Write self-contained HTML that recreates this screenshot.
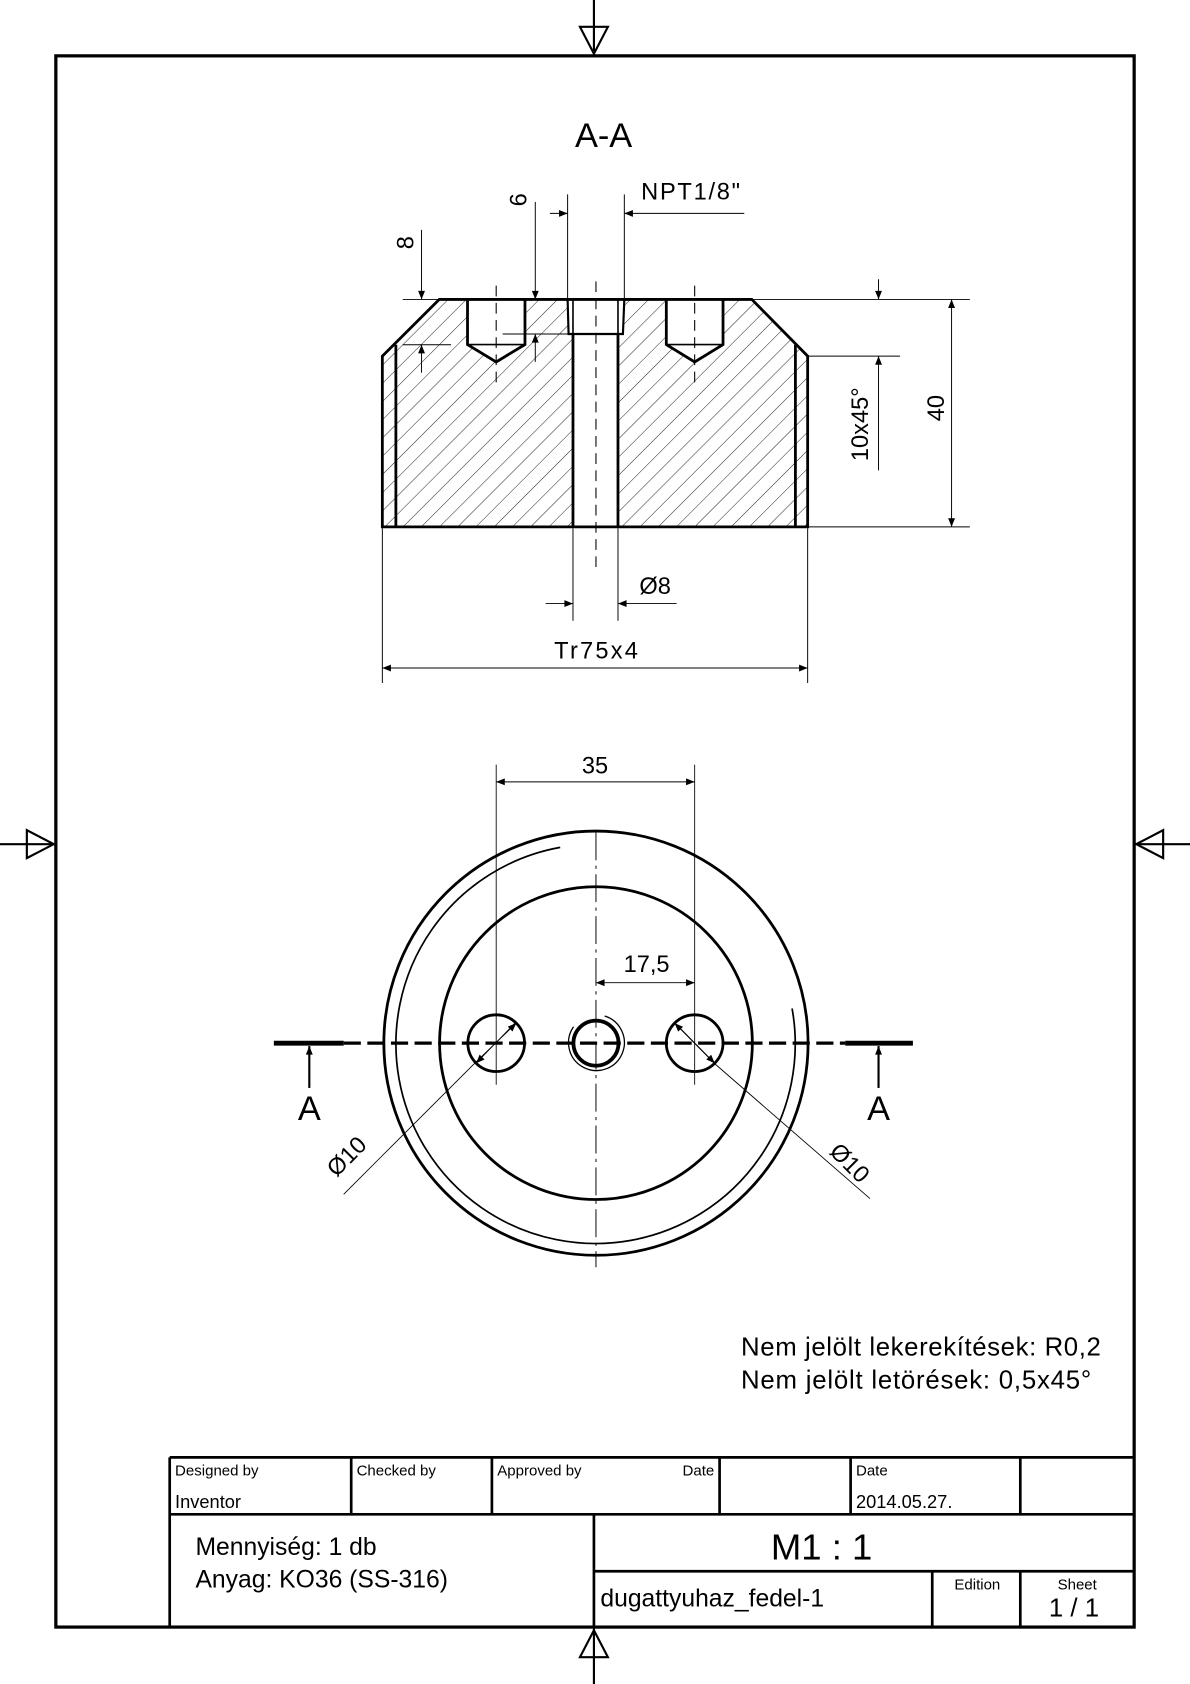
<!DOCTYPE html>
<html><head><meta charset="utf-8"><style>
html,body{margin:0;padding:0;background:#fff}
svg{display:block}
text{font-family:"Liberation Sans",sans-serif;fill:#000}
</style></head><body>
<svg width="1190" height="1684" viewBox="0 0 1108 1568" preserveAspectRatio="none" xmlns="http://www.w3.org/2000/svg">
<defs>
<pattern id="h" patternUnits="userSpaceOnUse" width="12" height="12" patternTransform="rotate(45)">
<line x1="0" y1="0" x2="0" y2="12" stroke="#000" stroke-width="0.8"/>
</pattern>
<marker id="a" viewBox="0 0 10 10" refX="10" refY="5" markerWidth="16" markerHeight="8" markerUnits="userSpaceOnUse" orient="auto-start-reverse"><path d="M0,1 L10,5 L0,9Z" fill="#000"/></marker>
</defs>
<rect x="52" y="52" width="1004" height="1463" fill="none" stroke="#000" stroke-width="3"/>
<g stroke="#000" stroke-width="2" fill="none">
<line x1="553" y1="0" x2="553" y2="52"/><path d="M540,25 L566,25 L553,50Z"/>
<line x1="553" y1="1515" x2="553" y2="1568"/><path d="M540,1543 L566,1543 L553,1518Z"/>
<line x1="0" y1="786" x2="52" y2="786"/><path d="M25,773 L25,799 L50,786Z"/>
<line x1="1056" y1="786" x2="1108" y2="786"/><path d="M1083,773 L1083,799 L1058,786Z"/>
</g>
<text x="562" y="137" font-size="32" text-anchor="middle">A-A</text>
<path d="M356,331.6 L409,278.8 L435.3,278.8 L435.3,320.8 L462,337 L488.8,320.8 L488.8,278.8 L528.5,278.8 L529.4,311 L533.5,311 L533.5,490.6 L356,490.6Z" fill="url(#h)"/>
<path d="M752,331.6 L700,278.8 L673.2,278.8 L673.2,320.8 L646.8,337 L620.4,320.8 L620.4,278.8 L581.3,278.8 L580,311 L575.4,311 L575.4,490.6 L752,490.6Z" fill="url(#h)"/>
<g stroke="#000" stroke-width="2.6" fill="none" stroke-linejoin="miter">
<path d="M356,490.6 L356,331.6 L409,278.8 L700,278.8 L752,331.6 L752,490.6 Z"/>
<line x1="368.6" y1="321" x2="368.6" y2="490.6"/>
<line x1="740.6" y1="321" x2="740.6" y2="490.6"/>
<path d="M435.3,278.8 L435.3,320.8 L462,337 L488.8,320.8 L488.8,278.8"/>
<path d="M435.3,320.8 L488.8,320.8" stroke-width="1.5"/>
<path d="M620.4,278.8 L620.4,320.8 L646.8,337 L673.2,320.8 L673.2,278.8"/>
<path d="M620.4,320.8 L673.2,320.8" stroke-width="1.5"/>
<path d="M528.5,278.8 L529.4,311 L580,311 L581.3,278.8" stroke-width="2"/>
<path d="M533.5,278.8 L533.5,311 M575.4,278.8 L575.4,311" stroke-width="1.5"/>
<line x1="533.5" y1="311" x2="533.5" y2="490.6"/>
<line x1="575.4" y1="311" x2="575.4" y2="490.6"/>
</g>
<g stroke="#000" stroke-width="1" fill="none" stroke-dasharray="10,6">
<line x1="554.9" y1="262" x2="554.9" y2="530"/>
<line x1="462" y1="266" x2="462" y2="356"/>
<line x1="646.8" y1="266" x2="646.8" y2="356"/>
</g>
<g stroke="#000" stroke-width="0.9" fill="none">
<line x1="375" y1="278.8" x2="409" y2="278.8"/>
<line x1="375" y1="321" x2="420" y2="321"/>
<line x1="392.5" y1="214" x2="392.5" y2="278.8" marker-end="url(#a)"/>
<line x1="392.5" y1="347" x2="392.5" y2="321" marker-end="url(#a)"/>
<line x1="468" y1="311" x2="529" y2="311"/>
<line x1="498.4" y1="188" x2="498.4" y2="278.8" marker-end="url(#a)"/>
<line x1="498.4" y1="337" x2="498.4" y2="311" marker-end="url(#a)"/>
<line x1="528.5" y1="181" x2="528.5" y2="278"/>
<line x1="581.3" y1="181" x2="581.3" y2="278"/>
<line x1="512" y1="198.7" x2="528.5" y2="198.7" marker-end="url(#a)"/>
<line x1="693" y1="198.7" x2="581.3" y2="198.7" marker-end="url(#a)"/>
<line x1="700" y1="278.8" x2="903" y2="278.8"/>
<line x1="752" y1="331.6" x2="838" y2="331.6"/>
<line x1="752" y1="490.6" x2="903" y2="490.6"/>
<line x1="818" y1="260" x2="818" y2="278.8" marker-end="url(#a)"/>
<line x1="818" y1="438" x2="818" y2="331.6" marker-end="url(#a)"/>
<line x1="886" y1="385" x2="886" y2="278.8" marker-end="url(#a)"/>
<line x1="886" y1="385" x2="886" y2="490.6" marker-end="url(#a)"/>
<line x1="533.5" y1="492" x2="533.5" y2="578"/>
<line x1="575.4" y1="492" x2="575.4" y2="578"/>
<line x1="508" y1="562" x2="533.5" y2="562" marker-end="url(#a)"/>
<line x1="630" y1="562" x2="575.4" y2="562" marker-end="url(#a)"/>
<line x1="356" y1="492" x2="356" y2="636"/>
<line x1="752" y1="492" x2="752" y2="636"/>
<line x1="554" y1="622" x2="356" y2="622" marker-end="url(#a)"/>
<line x1="554" y1="622" x2="752" y2="622" marker-end="url(#a)"/>
</g>
<g font-size="22">
<text transform="translate(385,226) rotate(-90)" text-anchor="middle">8</text>
<text transform="translate(490,186) rotate(-90)" text-anchor="middle">6</text>
<text x="597" y="186" textLength="92">NPT1/8"</text>
<text transform="translate(808,395) rotate(-90)" text-anchor="middle">10x45°</text>
<text transform="translate(879,380) rotate(-90)" text-anchor="middle">40</text>
<text x="610" y="553" text-anchor="middle">Ø8</text>
<text x="555" y="613" text-anchor="middle" textLength="78">Tr75x4</text>
<text x="554" y="720" text-anchor="middle">35</text>
<text x="602" y="905" text-anchor="middle">17,5</text>
<text transform="translate(328,1082) rotate(-45)" text-anchor="middle">Ø10</text>
<text transform="translate(786,1088) rotate(45)" text-anchor="middle">Ø10</text>
</g>
<g stroke="#000" stroke-width="2.6" fill="none">
<circle cx="554.9" cy="971.3" r="197.5"/>
<circle cx="554.9" cy="971.3" r="145.6"/>
<circle cx="462" cy="971.3" r="26.4"/>
<circle cx="646.8" cy="971.3" r="26.4"/>
<circle cx="554.9" cy="971.3" r="21" stroke-width="3.5"/>
<path d="M521.6,789 A185.9,185.9 0 1 0 737.5,939" stroke-width="1.6"/>
<path d="M534,956 A26,26 0 1 0 563,946" stroke-width="1.2"/>
</g>
<g stroke="#000" fill="none">
<line x1="255" y1="971.3" x2="320" y2="971.3" stroke-width="4.5"/>
<line x1="787" y1="971.3" x2="850" y2="971.3" stroke-width="4.5"/>
<line x1="320" y1="971.3" x2="787" y2="971.3" stroke-width="3" stroke-dasharray="16,6"/>
<line x1="288" y1="1013" x2="288" y2="974" stroke-width="2" marker-end="url(#a)"/>
<line x1="818" y1="1013" x2="818" y2="974" stroke-width="2" marker-end="url(#a)"/>
<line x1="554.9" y1="775" x2="554.9" y2="1180" stroke-width="0.9" stroke-dasharray="26,5,3,5"/>
<line x1="462" y1="712" x2="462" y2="1010" stroke-width="0.8"/>
<line x1="646.8" y1="712" x2="646.8" y2="1010" stroke-width="0.8"/>
<line x1="554" y1="728" x2="462" y2="728" stroke-width="0.9" marker-end="url(#a)"/>
<line x1="554" y1="728" x2="646.8" y2="728" stroke-width="0.9" marker-end="url(#a)"/>
<line x1="600" y1="915" x2="554.9" y2="915" stroke-width="0.9" marker-end="url(#a)"/>
<line x1="600" y1="915" x2="646.8" y2="915" stroke-width="0.9" marker-end="url(#a)"/>
<line x1="320" y1="1112" x2="443" y2="989" stroke-width="0.8"/>
<line x1="443" y1="989" x2="480.7" y2="952.6" stroke-width="0.8" marker-end="url(#a)"/>
<line x1="480" y1="952" x2="443.3" y2="990" stroke-width="0.8" marker-end="url(#a)"/>
<line x1="810" y1="1116" x2="665" y2="990" stroke-width="0.8"/>
<line x1="665" y1="990" x2="628.1" y2="952.6" stroke-width="0.8" marker-end="url(#a)"/>
<line x1="628" y1="952" x2="665.5" y2="990" stroke-width="0.8" marker-end="url(#a)"/>
</g>
<text x="288" y="1043" font-size="32" text-anchor="middle">A</text>
<text x="818" y="1043" font-size="32" text-anchor="middle">A</text>
<text x="690" y="1262" font-size="24" textLength="335">Nem jelölt lekerekítések: R0,2</text>
<text x="690" y="1293" font-size="24" textLength="326">Nem jelölt letörések: 0,5x45°</text>
<g stroke="#000" stroke-width="2.5" fill="none">
<line x1="158" y1="1357" x2="1056" y2="1357"/>
<line x1="158" y1="1410" x2="1056" y2="1410"/>
<line x1="553" y1="1463" x2="1056" y2="1463"/>
<line x1="158" y1="1357" x2="158" y2="1515"/>
<line x1="327" y1="1357" x2="327" y2="1410"/>
<line x1="458" y1="1357" x2="458" y2="1410"/>
<line x1="670" y1="1357" x2="670" y2="1410"/>
<line x1="792" y1="1357" x2="792" y2="1410"/>
<line x1="950" y1="1357" x2="950" y2="1410"/>
<line x1="553" y1="1410" x2="553" y2="1515"/>
<line x1="868" y1="1463" x2="868" y2="1515"/>
<line x1="950" y1="1463" x2="950" y2="1515"/>
</g>
<g font-size="14">
<text x="163" y="1374">Designed by</text>
<text x="332" y="1374">Checked by</text>
<text x="463" y="1374">Approved by</text>
<text x="665" y="1374" text-anchor="end">Date</text>
<text x="797" y="1374">Date</text>
<text x="910" y="1480" text-anchor="middle">Edition</text>
<text x="1003" y="1480" text-anchor="middle">Sheet</text>
</g>
<g font-size="17">
<text x="163" y="1404">Inventor</text>
<text x="797" y="1404">2014.05.27.</text>
</g>
<text x="182" y="1448" font-size="23">Mennyiség: 1 db</text>
<text x="182" y="1478" font-size="23">Anyag: KO36 (SS-316)</text>
<text x="765" y="1452" font-size="34" text-anchor="middle">M1 : 1</text>
<text x="559" y="1496" font-size="23">dugattyuhaz_fedel-1</text>
<text x="1000" y="1505" font-size="24" text-anchor="middle">1 / 1</text>
</svg>
</body></html>
